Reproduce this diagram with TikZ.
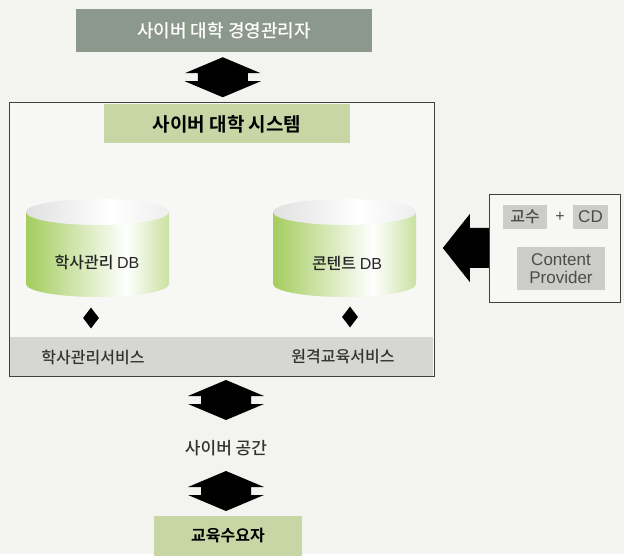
\documentclass[tikz,border=0pt]{standalone}
\usepackage{fontspec}
\setmainfont{Noto Sans CJK KR}[UprightFont=* Medium,BoldFont=* Bold]
\newfontfamily\latinfont{Liberation Sans}
\usetikzlibrary{positioning,calc,shapes.geometric}
\definecolor{paper}{RGB}{243,243,240}
\definecolor{mgrgray}{RGB}{141,152,140}
\definecolor{sysgreen}{RGB}{200,214,166}
\definecolor{dbgreen}{RGB}{148,196,66}
\definecolor{svcgray}{RGB}{214,215,210}
\definecolor{cpgray}{RGB}{204,205,201}
\pgfdeclarehorizontalshading{dbbody}{100bp}{color(0bp)=(dbgreen); color(25bp)=(dbgreen!85!white); color(60bp)=(white); color(78bp)=(dbgreen!60!white); color(100bp)=(dbgreen)}
\pgfdeclarehorizontalshading{dbtop}{100bp}{color(0bp)=(black!22); color(55bp)=(white); color(100bp)=(black!15)}
\begin{document}
\begin{tikzpicture}[x=1pt,y=-1pt,line join=round,
    box/.style={inner sep=0pt,font=\fontsize{18}{20}\selectfont},
    greenbox/.style={box,fill=sysgreen,font=\fontsize{19}{22}\selectfont\bfseries},
    lab/.style={inner sep=0pt,text=black!80,font=\fontsize{16}{18}\selectfont},
    cpbox/.style={inner sep=0pt,fill=cpgray,text=black!70,font=\fontsize{16}{17}\selectfont},
    joint/.style={diamond,fill=black,minimum width=16,minimum height=21,inner sep=0pt}]
  \def\updown(#1){\fill (#1) ++(0,-20) -- ++(38,16) -- ++(-13,0) -- ++(0,8) -- ++(13,0)
    -- ++(-38,16) -- ++(-38,-16) -- ++(13,0) -- ++(0,-8) -- ++(-13,0) -- cycle;}
  \def\dbcyl(#1){%
    \shade[shading=dbbody] (#1-71.5,212) -- (#1-71.5,284)
      arc[start angle=180,end angle=360,x radius=71.5pt,y radius=13pt] -- (#1+71.5,212) -- cycle;
    \shade[shading=dbtop] (#1,212) ellipse[x radius=71.5pt,y radius=13pt];}
  \fill[paper] (0,0) rectangle (624,554);
  % manager
  \node[box,fill=mgrgray,text=white,minimum width=296,minimum height=43] (mgr) at (224,31) {사이버 대학 경영관리자};
  % system
  \node[draw=black!75,fill=white!35!paper,minimum width=425,minimum height=274] (sys) at (221.5,239) {};
  \fill[svcgray] (sys.south west) ++(0.5,-0.5) rectangle ++(424,-39);
  \draw[black!75] (sys.south west) rectangle (sys.north east);
  \node[greenbox,minimum width=246,minimum height=39] (systitle) at (227,124) {사이버 대학 시스템};
  \dbcyl(97.5)
  \dbcyl(344.5)
  \node[lab,text=black!85] (acaddb) at (97,262) {학사관리 {\latinfont DB}};
  \node[lab,text=black!85] (contdb) at (347,263) {콘텐트 {\latinfont DB}};
  \node[joint] (d1) at (91,318) {};
  \node[joint] (d2) at (350,317) {};
  \node[lab] (acadsvc) at (93,357) {학사관리서비스};
  \node[lab] (distsvc) at (343,357) {원격교육서비스};
  % content provider
  \node[draw=black!75,fill=white!35!paper,minimum width=131,minimum height=108] (prov) at (554.5,248) {};
  \node[cpbox,minimum width=44,minimum height=24] (prof) at (525,217) {교수};
  \node[cpbox,minimum width=35,minimum height=24,font=\latinfont\fontsize{17}{17}\selectfont] (cd) at (590.5,217) {CD};
  \node[inner sep=0pt,text=black!70,font=\latinfont\fontsize{16}{17}\selectfont] (plus) at ($(prof.east)!.5!(cd.west)$) {+};
  \node[cpbox,minimum width=88,minimum height=43,align=center,font=\latinfont\fontsize{17}{18}\selectfont] (cp) at (561,268.5) {Content\\Provider};
  \fill (prov.west) ++(0,-20) -- ++(-19,0) -- ++(0,-14) -- ++(-27,34) -- ++(27,34) -- ++(0,-14) -- ++(19,0) -- cycle;
  % cyber space and users
  \node[lab,font=\fontsize{17}{18}\selectfont] (space) at (226,448) {사이버 공간};
  \node[greenbox,minimum width=148,minimum height=40,font=\fontsize{16}{18}\selectfont\bfseries] (edu) at (228,536) {교육수요자};
  \coordinate (a1) at ($(mgr.south)!.5!(sys.north)$);
  \coordinate (a2) at (226,400);
  \coordinate (a3) at (226,491);
  \updown(a1)
  \updown(a2)
  \updown(a3)
\end{tikzpicture}
\end{document}
